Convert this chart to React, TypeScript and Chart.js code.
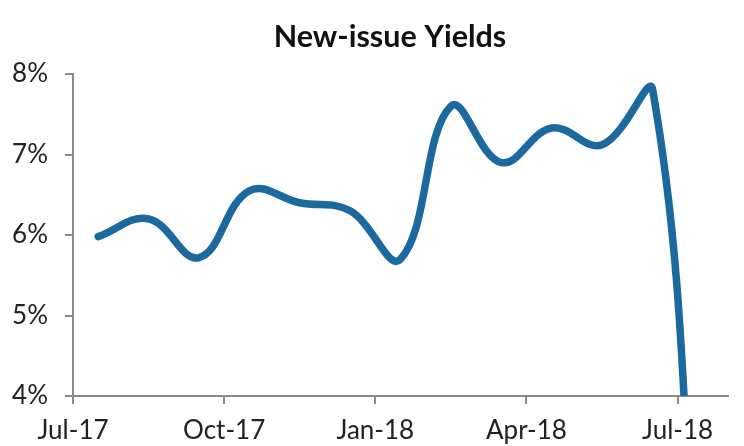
import React, { useEffect, useRef } from "react";
import { Chart, registerables } from "chart.js";

Chart.register(...registerables);

const months = [
  "Jul-17", "Aug-17", "Sep-17", "Oct-17", "Nov-17", "Dec-17",
  "Jan-18", "Feb-18", "Mar-18", "Apr-18", "May-18", "Jun-18", "Jul-18",
];
const yields = [5.98, 6.2, 5.72, 6.55, 6.4, 6.3, 5.7, 7.6, 6.9, 7.33, 7.12, 7.82, 0];
const tickLabels = ["Jul-17", "Oct-17", "Jan-18", "Apr-18", "Jul-18"];
const tickMonths = [0, 3, 6, 9, 12];
const yTicks = [4, 5, 6, 7, 8];
const titleText = "New-issue Yields";

const titlePlugin = {
  id: "customTitle",
  afterDraw(chart: any) {
    const ctx = chart.ctx;
    ctx.save();
    ctx.font = "bold 30.5px Lato";
    ctx.fillStyle = "#111";
    ctx.textAlign = "center";
    ctx.textBaseline = "alphabetic";
    ctx.fillText(titleText, 390, 47);
    ctx.restore();
  },
};

export default function App() {
  const ref = useRef<HTMLCanvasElement>(null);
  useEffect(() => {
    const ctx = ref.current!;
    const chart = new Chart(ctx, {
      type: "line",
      data: {
        datasets: [
          {
            label: titleText,
            data: months.map((m, i) => ({ x: i + 0.5, y: yields[i] })),
            borderColor: "#1c69a0",
            borderWidth: 7.5,
            borderCapStyle: "round",
            borderJoinStyle: "round",
            pointRadius: 0,
            tension: 0.4,
            fill: false,
          },
        ],
      },
      plugins: [titlePlugin],
      options: {
        animation: false,
        responsive: false,
        maintainAspectRatio: false,
        layout: { padding: { left: 0, right: 16, top: 74, bottom: 0 } },
        plugins: {
          legend: { display: false },
          tooltip: { enabled: false },
          title: { display: false },
        },
        scales: {
          x: {
            type: "linear",
            min: 0,
            max: 13,
            afterBuildTicks: (scale: any) => {
              scale.ticks = tickMonths.map((v) => ({ value: v }));
            },
            afterFit: (scale: any) => {
              scale.height = 50;
            },
            ticks: {
              autoSkip: false,
              maxRotation: 0,
              padding: 11,
              color: "#222",
              font: { family: "Lato", size: 26 },
              callback: (v: any) => tickLabels[tickMonths.indexOf(Number(v))] ?? "",
            },
            grid: { drawOnChartArea: false, drawTicks: true, tickLength: 8, color: "#8a8a8a", lineWidth: 2 },
            border: { display: true, color: "#8a8a8a", width: 2 },
          },
          y: {
            min: 4,
            max: 8,
            afterBuildTicks: (scale: any) => {
              scale.ticks = yTicks.map((v) => ({ value: v }));
            },
            afterFit: (scale: any) => {
              scale.width = 73;
            },
            ticks: {
              padding: 17,
              color: "#222",
              font: { family: "Lato", size: 26 },
              callback: (v: any) => v + "%",
            },
            grid: { drawOnChartArea: false, drawTicks: true, tickLength: 8, color: "#8a8a8a", lineWidth: 2 },
            border: { display: true, color: "#8a8a8a", width: 2 },
          },
        },
      },
    });
    return () => chart.destroy();
  }, []);
  return (
    <div style={{ position: "absolute", left: 0, top: 0, width: 744, height: 446, background: "#fff" }}>
      <canvas ref={ref} width={744} height={446} />
    </div>
  );
}
